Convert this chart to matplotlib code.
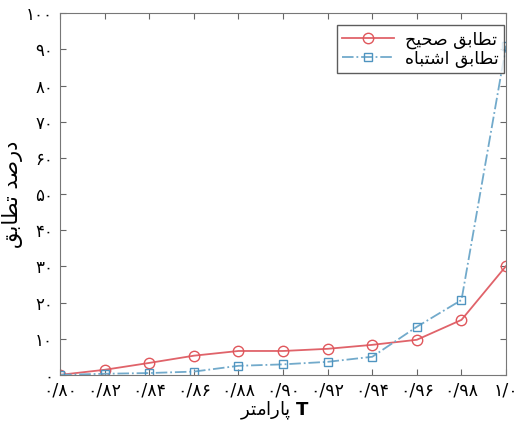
import matplotlib
matplotlib.use("Agg")
import matplotlib.pyplot as plt

# data
t_values = [0.80, 0.82, 0.84, 0.86, 0.88, 0.90, 0.92, 0.94, 0.96, 0.98, 1.00]
correct = [0, 1.4, 3.3, 5.3, 6.6, 6.6, 7.2, 8.3, 9.7, 15.2, 30.1]
wrong = [0, 0.3, 0.5, 0.9, 2.5, 2.9, 3.6, 5.0, 13.3, 20.7, 91.0]

x_tick_labels = ['۰/۸۰', '۰/۸۲', '۰/۸۴', '۰/۸۶', '۰/۸۸', '۰/۹۰',
                 '۰/۹۲', '۰/۹۴', '۰/۹۶', '۰/۹۸', '۱/۰']
y_ticks = [0, 10, 20, 30, 40, 50, 60, 70, 80, 90, 100]
y_tick_labels = ['۰', '۱۰', '۲۰', '۳۰', '۴۰', '۵۰', '۶۰', '۷۰', '۸۰', '۹۰', '۱۰۰']

# persian text already shaped (presentation forms, visual order)
tatabogh = '\ufed6\ufe91\ufe8e\ufec4\ufe97'
label_correct = '\ufea2\ufef4\ufea4\ufebb ' + tatabogh
label_wrong = '\ufee9\ufe8e\ufe92\ufe98\ufeb7\ufe8d ' + tatabogh
ylabel = tatabogh + ' \ufeaa\ufebb\ufead\ufea9'
xlabel_fa = '\ufeae\ufe98\ufee3\ufe8d\ufead\ufe8e\ufb58'

plt.rcParams['font.family'] = ['DejaVu Sans']

fig = plt.figure(figsize=(5.18, 4.25), dpi=100)
ax = fig.add_axes([0.116, 0.118, 0.861, 0.851])

ax.plot(t_values, correct, '-o', color='#e0636a', lw=1.3, ms=7.5,
        mfc='none', mec='#e0575c', mew=1.0, label=label_correct)
ax.plot(t_values, wrong, '-.s', color='#72aacb', lw=1.3, ms=6,
        mfc='none', mec='#4f94c0', mew=1.0, label=label_wrong)

ax.set_xlim(0.80, 1.00)
ax.set_ylim(0, 100)
ax.set_xticks(t_values)
ax.set_xticklabels(x_tick_labels, fontsize=12.5)
ax.set_yticks(y_ticks)
ax.set_yticklabels(y_tick_labels, fontsize=12)
ax.tick_params(direction='in', top=True, right=True, length=4, color='#666666')
ax.tick_params(axis='x', pad=5)
ax.tick_params(axis='y', pad=5)
for s in ax.spines.values():
    s.set_color('#777777')

ax.set_ylabel(ylabel, fontsize=15, labelpad=2)
ax.set_xlabel(xlabel_fa + ' $\\mathbf{T}$', fontsize=13)
ax.xaxis.set_label_coords(0.482, -0.07)

leg = ax.legend(loc='upper right', bbox_to_anchor=(0.995, 0.967), borderaxespad=0,
                fontsize=12.5, frameon=True, fancybox=False, edgecolor='#333333',
                handlelength=3.0, labelspacing=0.05, borderpad=0.3, handletextpad=0.6)
leg.get_frame().set_linewidth(1.0)

fig.savefig('out.png', dpi=100)
